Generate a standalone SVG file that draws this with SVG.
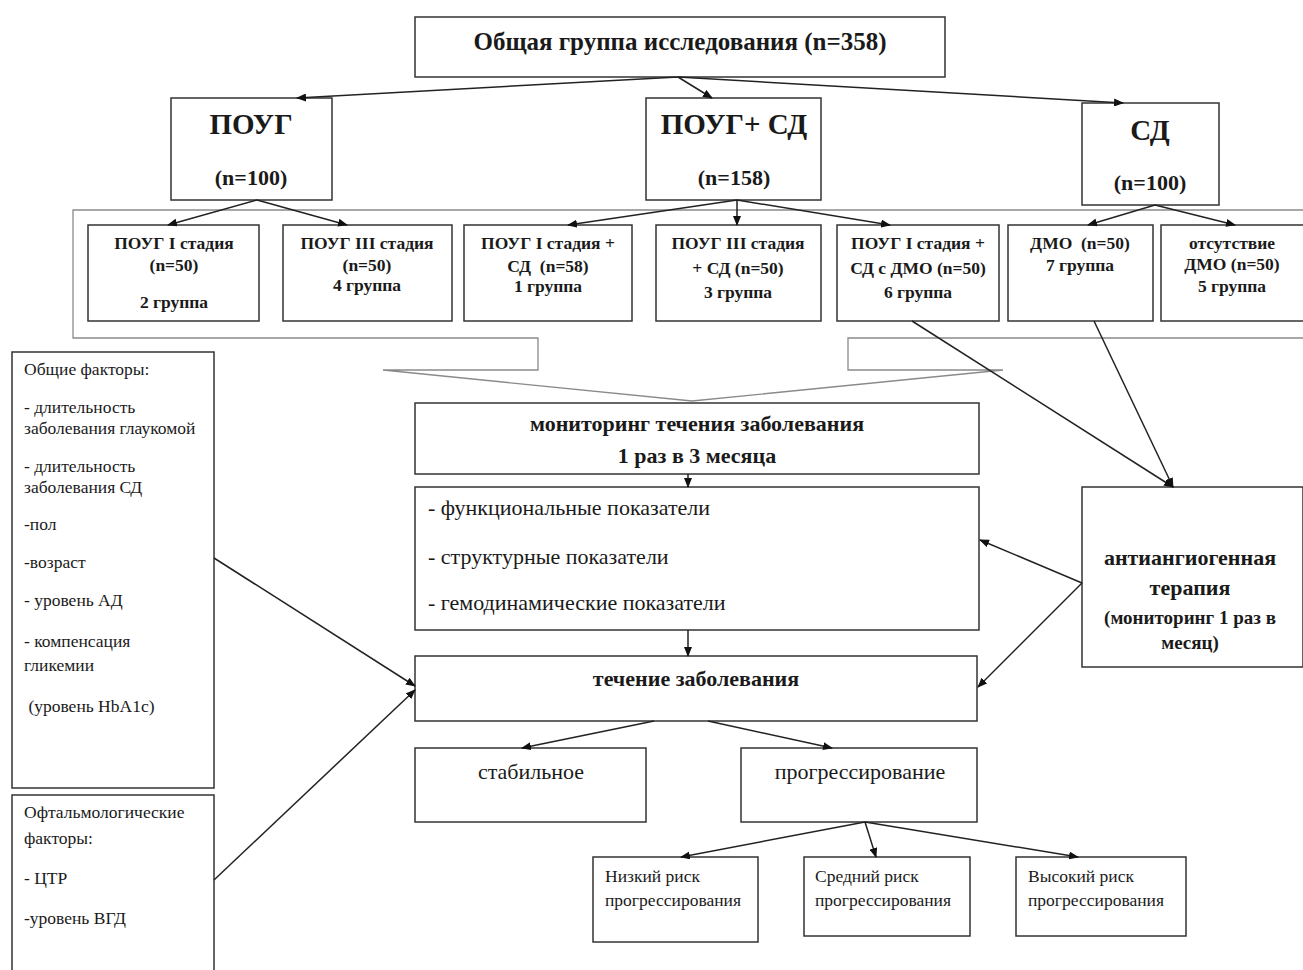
<svg xmlns="http://www.w3.org/2000/svg" width="1303" height="970" viewBox="0 0 1303 970">
<style>
.box{fill:#fff;stroke:#333;stroke-width:1.5}
.cont{fill:none;stroke:#8a8a8a;stroke-width:1.3}
.t{font-family:"Liberation Serif","Times New Roman",serif;fill:#1a1a1a}
.b{font-weight:bold}
.c{text-anchor:middle}
.sg{font-size:17.5px;font-weight:bold;text-anchor:middle}
.conn line{stroke:#222;stroke-width:1.5;marker-end:url(#ah)}
</style>
<defs>
<marker id="ah" markerWidth="10" markerHeight="8" refX="9" refY="4" orient="auto" markerUnits="userSpaceOnUse">
<path d="M0,0 L10,4 L0,8 Z" fill="#111"/>
</marker>
</defs>
<rect width="1303" height="970" fill="#fff"/>

<g id="container">
<path class="cont" d="M1310,210 H73 V338 H538 V370 H383 L692,401 L1003,370 H848 V338 H1310"/>
</g>

<g id="n-total"><rect class="box" x="415" y="17" width="530" height="60"/>
<text class="t b c" x="680" y="50" font-size="25">Общая группа исследования (n=358)</text></g>

<g id="n-poug"><rect class="box" x="171" y="98" width="161" height="102"/>
<text class="t b c" x="251" y="134" font-size="29">ПОУГ</text>
<text class="t b c" x="251" y="185" font-size="22">(n=100)</text></g>

<g id="n-pougsd"><rect class="box" x="646" y="98" width="175" height="102"/>
<text class="t b c" x="734" y="134" font-size="29">ПОУГ+ СД</text>
<text class="t b c" x="734" y="185" font-size="22">(n=158)</text></g>

<g id="n-sd"><rect class="box" x="1082" y="103" width="137" height="102"/>
<text class="t b c" x="1150" y="140" font-size="29">СД</text>
<text class="t b c" x="1150" y="190" font-size="22">(n=100)</text></g>

<g id="g2"><rect class="box" x="88" y="225" width="171" height="96"/>
<text class="t sg" x="174" y="249">ПОУГ I стадия</text>
<text class="t sg" x="174" y="271">(n=50)</text>
<text class="t sg" x="174" y="308">2 группа</text></g>

<g id="g4"><rect class="box" x="283" y="225" width="169" height="96"/>
<text class="t sg" x="367" y="249">ПОУГ III стадия</text>
<text class="t sg" x="367" y="271">(n=50)</text>
<text class="t sg" x="367" y="291">4 группа</text></g>

<g id="g1"><rect class="box" x="464" y="225" width="168" height="96"/>
<text class="t sg" x="548" y="249">ПОУГ I стадия +</text>
<text class="t sg" x="548" y="272" xml:space="preserve">СД  (n=58)</text>
<text class="t sg" x="548" y="292">1 группа</text></g>

<g id="g3"><rect class="box" x="656" y="225" width="165" height="96"/>
<text class="t sg" x="738" y="249">ПОУГ III стадия</text>
<text class="t sg" x="738" y="274">+ СД (n=50)</text>
<text class="t sg" x="738" y="298">3 группа</text></g>

<g id="g6"><rect class="box" x="837" y="225" width="162" height="96"/>
<text class="t sg" x="918" y="249">ПОУГ I стадия +</text>
<text class="t sg" x="918" y="274">СД с ДМО (n=50)</text>
<text class="t sg" x="918" y="298">6 группа</text></g>

<g id="g7"><rect class="box" x="1008" y="225" width="145" height="96"/>
<text class="t sg" x="1080" y="249" xml:space="preserve">ДМО  (n=50)</text>
<text class="t sg" x="1080" y="271">7 группа</text></g>

<g id="g5"><rect class="box" x="1161" y="225" width="145" height="96"/>
<text class="t sg" x="1232" y="249">отсутствие</text>
<text class="t sg" x="1232" y="270">ДМО (n=50)</text>
<text class="t sg" x="1232" y="292">5 группа</text></g>

<g id="f-common"><rect class="box" x="12" y="352" width="202" height="436"/>
<g class="t" font-size="17.5">
<text x="24" y="375">Общие факторы:</text>
<text x="24" y="413">- длительность</text>
<text x="24" y="434">заболевания глаукомой</text>
<text x="24" y="472">- длительность</text>
<text x="24" y="493">заболевания СД</text>
<text x="24" y="530">-пол</text>
<text x="24" y="568">-возраст</text>
<text x="24" y="606">- уровень АД</text>
<text x="24" y="647">- компенсация</text>
<text x="24" y="671">гликемии</text>
<text x="24" y="712" xml:space="preserve"> (уровень HbA1c)</text>
</g></g>

<g id="f-ophth"><rect class="box" x="12" y="795" width="202" height="190"/>
<g class="t" font-size="17.5">
<text x="24" y="818">Офтальмологические</text>
<text x="24" y="844">факторы:</text>
<text x="24" y="884">- ЦТР</text>
<text x="24" y="924">-уровень ВГД</text>
</g></g>

<g id="n-monitor"><rect class="box" x="415" y="403" width="564" height="71"/>
<text class="t b c" x="697" y="431" font-size="22">мониторинг течения заболевания</text>
<text class="t b c" x="697" y="463" font-size="22">1 раз в 3 месяца</text></g>

<g id="n-params"><rect class="box" x="415" y="487" width="564" height="143"/>
<g class="t" font-size="22">
<text x="428" y="515">- функциональные показатели</text>
<text x="428" y="564">- структурные показатели</text>
<text x="428" y="610">- гемодинамические показатели</text>
</g></g>

<g id="n-course"><rect class="box" x="415" y="656" width="562" height="65"/>
<text class="t b c" x="696" y="686" font-size="22">течение заболевания</text></g>

<g id="n-antiangio"><rect class="box" x="1082" y="487" width="221" height="180"/>
<text class="t b c" x="1190" y="565" font-size="22">антиангиогенная</text>
<text class="t b c" x="1190" y="595" font-size="22">терапия</text>
<text class="t b c" x="1190" y="624" font-size="19">(мониторинг 1 раз в</text>
<text class="t b c" x="1190" y="649" font-size="19">месяц)</text></g>

<g id="n-stable"><rect class="box" x="415" y="748" width="231" height="74"/>
<text class="t c" x="531" y="779" font-size="22">стабильное</text></g>

<g id="n-progress"><rect class="box" x="741" y="748" width="236" height="74"/>
<text class="t c" x="860" y="779" font-size="22">прогрессирование</text></g>

<g id="r-low"><rect class="box" x="593" y="857" width="165" height="85"/>
<text class="t" x="605" y="882" font-size="17.5">Низкий риск</text>
<text class="t" x="605" y="906" font-size="17.5">прогрессирования</text></g>

<g id="r-mid"><rect class="box" x="804" y="857" width="166" height="79"/>
<text class="t" x="815" y="882" font-size="17.5">Средний риск</text>
<text class="t" x="815" y="906" font-size="17.5">прогрессирования</text></g>

<g id="r-high"><rect class="box" x="1016" y="857" width="170" height="79"/>
<text class="t" x="1028" y="882" font-size="17.5">Высокий риск</text>
<text class="t" x="1028" y="906" font-size="17.5">прогрессирования</text></g>

<g id="connectors" class="conn">
<line x1="678" y1="77" x2="297" y2="98"/>
<line x1="678" y1="77" x2="712" y2="98"/>
<line x1="678" y1="77" x2="1123" y2="103"/>
<line x1="257" y1="200" x2="168" y2="225"/>
<line x1="257" y1="200" x2="347" y2="225"/>
<line x1="737" y1="200" x2="568" y2="225"/>
<line x1="737" y1="200" x2="737" y2="225"/>
<line x1="737" y1="200" x2="890" y2="225"/>
<line x1="1155" y1="205" x2="1088" y2="225"/>
<line x1="1155" y1="205" x2="1235" y2="225"/>
<line x1="912" y1="321" x2="1173" y2="487"/>
<line x1="1094" y1="321" x2="1173" y2="487"/>
<line x1="688" y1="474" x2="688" y2="487"/>
<line x1="688" y1="630" x2="688" y2="656"/>
<line x1="1082" y1="583" x2="980" y2="540"/>
<line x1="1082" y1="583" x2="978" y2="687"/>
<line x1="214" y1="558" x2="415" y2="686"/>
<line x1="214" y1="880" x2="415" y2="690"/>
<line x1="654" y1="721" x2="522" y2="748"/>
<line x1="708" y1="721" x2="832" y2="748"/>
<line x1="865" y1="822" x2="681" y2="857"/>
<line x1="865" y1="822" x2="876" y2="857"/>
<line x1="865" y1="822" x2="1078" y2="857"/>
</g>
</svg>
